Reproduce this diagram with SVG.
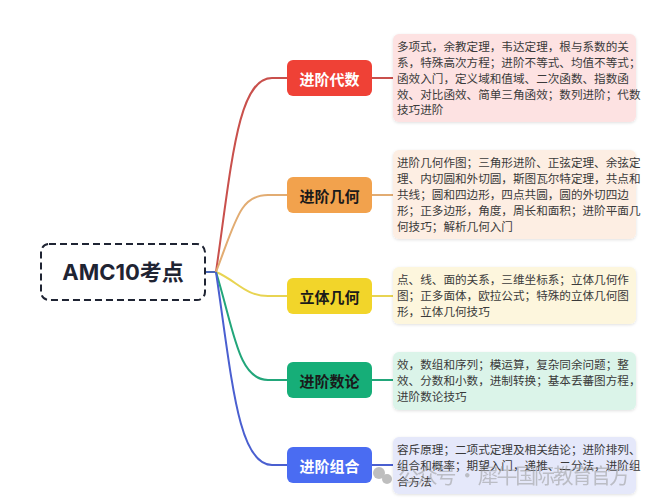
<svg xmlns="http://www.w3.org/2000/svg" width="650" height="504" viewBox="0 0 650 504">
<defs>
<filter id="sh" x="-5%" y="-10%" width="110%" height="130%"><feDropShadow dx="0" dy="1" stdDeviation="1.5" flood-color="#000" flood-opacity="0.12"/></filter>
</defs>
<style>
.t{font-family:"Noto Sans CJK SC","Noto Sans",sans-serif;font-size:11.6px;fill:#3a3a3a}
.n{font-family:"Noto Sans CJK SC","Noto Sans",sans-serif;font-size:15px;font-weight:bold;text-anchor:middle;dominant-baseline:central}
.c{fill:none;stroke-width:2}
.box{filter:url(#sh)}
</style>
<rect width="650" height="504" fill="#ffffff"/>
<g id="connectors">
<line x1="206" y1="272" x2="216" y2="272" stroke="#4a68b8" stroke-width="2"/>
<path class="c" stroke="#c9504c" d="M216,272 C232,160 238,78 272,78 H287"/>
<path class="c" stroke="#e2ac72" d="M216,272 C236,220 240,195 268,195 H287"/>
<path class="c" stroke="#e8d452" d="M216,272 C236,280 245,296 268,296 H287"/>
<path class="c" stroke="#22a67a" d="M216,272 C234,330 238,380 268,380 H287"/>
<path class="c" stroke="#4a5fd0" d="M216,272 C232,380 238,465 272,465 H287"/>
<line x1="372" y1="78" x2="393" y2="78" stroke="#c9504c" stroke-width="2"/>
<line x1="372" y1="195" x2="393" y2="195" stroke="#e2ac72" stroke-width="2"/>
<line x1="372" y1="296" x2="393" y2="296" stroke="#e8d452" stroke-width="2"/>
<line x1="372" y1="380" x2="393" y2="380" stroke="#22a67a" stroke-width="2"/>
<line x1="372" y1="465" x2="393" y2="465" stroke="#4a5fd0" stroke-width="2"/>
</g>
<g id="root">
<rect x="41" y="244" width="164" height="56" rx="8" fill="#fff" stroke="#1f2433" stroke-width="2" stroke-dasharray="7,4"/>
<text x="123" y="272" font-family="Inter,'Noto Sans CJK SC',sans-serif" font-size="22" font-weight="bold" fill="#1f2433" text-anchor="middle" dominant-baseline="central">AMC10考点</text>
</g>
<g id="n1">
<rect x="287" y="60" width="85" height="36" rx="6" fill="#ef4136"/>
<text class="n" x="329.5" y="78" fill="#ffffff">进阶代数</text>
</g>
<g id="n2">
<rect x="287" y="177" width="85" height="36" rx="6" fill="#f2a24d"/>
<text class="n" x="329.5" y="195" fill="#1a1a1a">进阶几何</text>
</g>
<g id="n3">
<rect x="287" y="278" width="85" height="36" rx="6" fill="#f2d52a"/>
<text class="n" x="329.5" y="296" fill="#1a1a1a">立体几何</text>
</g>
<g id="n4">
<rect x="287" y="362" width="85" height="36" rx="6" fill="#16ae78"/>
<text class="n" x="329.5" y="380" fill="#1a1a1a">进阶数论</text>
</g>
<g id="n5">
<rect x="287" y="447" width="85" height="36" rx="6" fill="#4a6cf2"/>
<text class="n" x="329.5" y="465" fill="#ffffff">进阶组合</text>
</g>
<g id="d1">
<rect class="box" x="393" y="34" width="243" height="88" rx="6" fill="#fde2e2"/>
<text class="t" x="397" y="51">多项式，余教定理，韦达定理，根与系数的关</text>
<text class="t" x="397" y="67">系，特殊高次方程；进阶不等式、均值不等式；</text>
<text class="t" x="397" y="82.5">函效入门，定义域和值域、二次函数、指数函</text>
<text class="t" x="397" y="98.5">效、对比函效、简单三角函效；数列进阶；代数</text>
<text class="t" x="397" y="114">技巧进阶</text>
</g>
<g id="d2">
<rect class="box" x="393" y="150" width="243" height="89" rx="6" fill="#fdeee3"/>
<text class="t" x="397" y="167">进阶几何作图；三角形进阶、正弦定理、余弦定</text>
<text class="t" x="397" y="183">理、内切圆和外切圆，斯图瓦尔特定理，共点和</text>
<text class="t" x="397" y="199">共线；圆和四边形，四点共圆，圆的外切四边</text>
<text class="t" x="397" y="215">形；正多边形，角度，周长和面积；进阶平面几</text>
<text class="t" x="397" y="231">何技巧；解析几何入门</text>
</g>
<g id="d3">
<rect class="box" x="393" y="267" width="243" height="57" rx="6" fill="#fdf6dd"/>
<text class="t" x="397" y="284">点、线、面的关系，三维坐标系；立体几何作</text>
<text class="t" x="397" y="300">图；正多面体，欧拉公式；特殊的立体几何图</text>
<text class="t" x="397" y="316">形，立体几何技巧</text>
</g>
<g id="d4">
<rect class="box" x="393" y="352" width="243" height="58" rx="6" fill="#dbf4e9"/>
<text class="t" x="397" y="369">效，数组和序列；模运算，复杂同余问题；整</text>
<text class="t" x="397" y="385">效、分数和小数，进制转换；基本丢蕃图方程，</text>
<text class="t" x="397" y="401">进阶数论技巧</text>
</g>
<g id="d5">
<rect class="box" x="393" y="437" width="243" height="57" rx="6" fill="#e5e8fa"/>
<text class="t" x="397" y="454">容斥原理；二项式定理及相关结论；进阶排列、</text>
<text class="t" x="397" y="470">组合和概率；期望入门，递推、二分法，进阶组</text>
<text class="t" x="397" y="486">合方法</text>
</g>
<g id="watermark" opacity="0.55">
<circle cx="379" cy="473" r="6" fill="#8a8a8a"/>
<circle cx="387" cy="479" r="5" fill="#8a8a8a"/>
<text x="398" y="483" font-family="'Noto Sans CJK SC',sans-serif" font-size="21" fill="#9a9a9a" textLength="232">公众号 · 犀牛国际教育官方</text>
</g>
</svg>
